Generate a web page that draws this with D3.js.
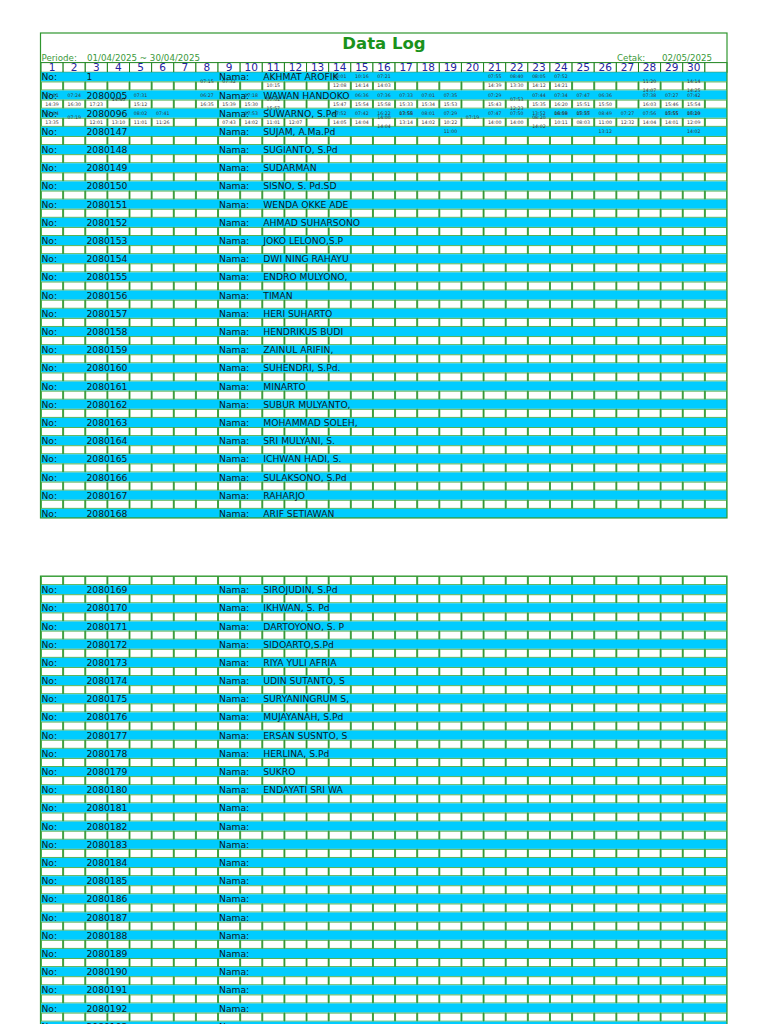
<!DOCTYPE html>
<html><head><meta charset="utf-8">
<script src="https://cdn.jsdelivr.net/npm/d3@7"></script>
<style>html,body{margin:0;padding:0;background:#fff;} svg{display:block;}</style>
</head><body>
<svg id="chart" width="768" height="1024"></svg>
<script>
// ---------- data ----------
const titleText = "Data Log";
const periodeLabel = "Periode:";
const periodeValue = "01/04/2025 ~ 30/04/2025";
const cetakLabel = "Cetak:";
const cetakValue = "02/05/2025";
const dayLabels = ["1","2","3","4","5","6","7","8","9","10","11","12","13","14","15","16","17","18","19","20","21","22","23","24","25","26","27","28","29","30",""];

const idsPage1 = ["1","2080005","2080096","2080147","2080148","2080149","2080150","2080151","2080152","2080153","2080154","2080155","2080156","2080157","2080158","2080159","2080160","2080161","2080162","2080163","2080164","2080165","2080166","2080167","2080168"];
const namesPage1 = ["AKHMAT AROFIK","WAWAN HANDOKO","SUWARNO, S.Pd","SUJAM, A.Ma.Pd","SUGIANTO, S.Pd","SUDARMAN","SISNO, S. Pd.SD","WENDA OKKE ADE","AHMAD SUHARSONO","JOKO LELONO,S.P","DWI NING RAHAYU","ENDRO MULYONO,","TIMAN","HERI SUHARTO","HENDRIKUS BUDI","ZAINUL ARIFIN,","SUHENDRI, S.Pd.","MINARTO","SUBUR MULYANTO,","MOHAMMAD SOLEH,","SRI MULYANI, S.","ICHWAN HADI, S.","SULAKSONO, S.Pd","RAHARJO","ARIF SETIAWAN"];

const idsPage2 = ["2080169","2080170","2080171","2080172","2080173","2080174","2080175","2080176","2080177","2080178","2080179","2080180","2080181","2080182","2080183","2080184","2080185","2080186","2080187","2080188","2080189","2080190","2080191","2080192","2080193"];
const namesPage2 = ["SIROJUDIN, S.Pd","IKHWAN, S. Pd","DARTOYONO, S. P","SIDOARTO,S.Pd","RIYA YULI AFRIA","UDIN SUTANTO, S","SURYANINGRUM S,","MUJAYANAH, S.Pd","ERSAN SUSNTO, S","HERLINA, S.Pd","SUKRO","ENDAYATI SRI WA","","","","","","","","","","","","",""];

// scan times per day (1..30), lines separated by "\n"
const log_1 = ["","","","","","","","07:15","07:32","","\n10:15","","","08:01\n12:08","10:16\n14:14","07:21\n14:03","","","","","07:55\n14:39","08:40\n13:30","08:05\n14:12","07:52\n14:21","","","","\n11:20\n14:07","","\n14:14\n14:25"];
const log_2080005 = ["07:01\n14:39","07:24\n16:30","\n17:23","14:40","07:31\n15:12","","","06:27\n16:35","\n15:39","07:18\n15:30","\n07:01\n15:57","","","\n15:47","06:36\n15:54","\n07:36\n15:58\n16:22","\n07:33\n15:33\n13:58","07:01\n15:34","07:35\n15:53","","07:29\n15:43","\n07:53\n12:23","\n07:44\n15:35\n13:52","\n07:34\n16:20\n16:58","\n07:47\n15:51\n15:57","06:36\n15:50","","07:38\n16:03","\n07:27\n15:46\n15:55","\n07:42\n15:54\n16:10"];
const log_2080096 = ["07:04\n13:35","07:19","\n12:01","\n13:10","08:02\n11:01","07:41\n11:26","","","\n07:43","07:53\n14:02","\n11:01","\n12:07","","07:52\n14:05","07:42\n14:04","\n14:00\n14:04","07:55\n13:14","08:01\n14:02","\n07:29\n10:22\n11:00","07:19","07:47\n14:00","07:50\n14:00","\n08:20\n14:02","08:09\n10:11","07:35\n08:03","\n08:49\n11:00\n13:12","07:27\n12:32","07:56\n14:04","07:55\n14:01","\n07:29\n12:09\n14:02"];
const logsById = {"1": log_1, "2080005": log_2080005, "2080096": log_2080096};

// ---------- drawing ----------
const GREEN = "#2f962f", CELL = "#55b255", CYAN = "#00ccff";
const FONT = "DejaVu Sans, Verdana, sans-serif";
const svg = d3.select("#chart");

const x = d3.scaleBand().domain(d3.range(dayLabels.length)).range([41, 727]);
const bw = x.bandwidth();
const pitch = 18.19;
const y1 = d3.scaleBand().domain(idsPage1).range([72.3, 72.3 + idsPage1.length * pitch]);
const y2 = d3.scaleBand().domain(idsPage2).range([585.1, 585.1 + idsPage2.length * pitch]);
const half = y1.bandwidth() / 2;

const gBg = svg.append("g"), gTime = svg.append("g"), gName = svg.append("g"), gFrame = svg.append("g");

function whiteRow(yTop) {
  gBg.append("g").selectAll("rect").data(x.domain()).join("rect")
    .attr("x", d => x(d) + 0.5).attr("y", yTop + 0.5)
    .attr("width", bw - 1).attr("height", half - 1)
    .attr("fill", "#fff").attr("stroke", CELL).attr("stroke-width", 1);
  gBg.append("g").selectAll("line").data(x.domain().slice(1)).join("line")
    .attr("x1", d => x(d)).attr("x2", d => x(d))
    .attr("y1", yTop).attr("y2", yTop + half)
    .attr("stroke", "#1e841e").attr("stroke-width", 0.8);
}

function employeeRows(ids, names, y, skipLastWhite) {
  ids.forEach((id, i) => {
    const top = y(id);
    gBg.append("rect").attr("x", 41).attr("y", top).attr("width", 686).attr("height", half).attr("fill", CYAN);
    if (!(skipLastWhite && i === ids.length - 1)) whiteRow(top + half);
    const cy = top + half / 2;
    const row = gName.append("g").attr("font-family", FONT).attr("font-size", 9.2).attr("fill", "#0d1a22")
      .attr("dominant-baseline", "central");
    row.append("text").attr("x", 41.5).attr("y", cy).text("No:");
    row.append("text").attr("x", x(2) + 1.2).attr("y", cy).text(id);
    row.append("text").attr("x", x(8) + 1).attr("y", cy).text("Nama:");
    row.append("text").attr("x", x(10) + 1).attr("y", cy).text(names[i]);

    const log = logsById[id];
    if (log) {
      const yb = top + half;
      log.forEach((entry, d) => {
        if (!entry) return;
        const lines = entry.split("\n");
        const n = lines.length;
        lines.forEach((ln, k) => {
          if (!ln) return;
          gTime.append("text")
            .attr("x", x(d) + bw / 2).attr("y", yb + (k - (n - 1) / 2) * 9)
            .attr("text-anchor", "middle").attr("dominant-baseline", "central")
            .attr("font-family", FONT).attr("font-size", 4.7).attr("fill", "#3a3a3a")
            .text(ln);
        });
      });
    }
  });
}

// ---- page 1 ----
svg.append("text").attr("x", 384).attr("y", 48.5).attr("text-anchor", "middle")
  .attr("font-family", FONT).attr("font-weight", "bold").attr("font-size", 16.5)
  .attr("fill", "#1b921b").text(titleText);
const hdr = svg.append("g").attr("font-family", FONT).attr("font-size", 8.7).attr("fill", "#3b9a3b");
hdr.append("text").attr("x", 41.5).attr("y", 61).text(periodeLabel);
hdr.append("text").attr("x", 87).attr("y", 61).text(periodeValue);
hdr.append("text").attr("x", 617).attr("y", 61).text(cetakLabel);
hdr.append("text").attr("x", 662).attr("y", 61).text(cetakValue);

// day header row
const hTop = 62.6, hH = 72.3 - 62.6;
gBg.append("g").selectAll("rect").data(x.domain()).join("rect")
  .attr("x", d => x(d)).attr("y", hTop).attr("width", bw).attr("height", hH)
  .attr("fill", "#fff").attr("stroke", "#1e841e").attr("stroke-width", 1);
svg.append("g").selectAll("text").data(x.domain()).join("text")
  .attr("x", d => x(d) + bw / 2).attr("y", hTop + hH - 1.2)
  .attr("text-anchor", "middle").attr("font-family", FONT).attr("font-size", 10.5)
  .attr("fill", "#22229e").text(d => dayLabels[d]);

employeeRows(idsPage1, namesPage1, y1, true);
gFrame.append("rect").attr("x", 40.5).attr("y", 33).attr("width", 686.5)
  .attr("height", y1(idsPage1[idsPage1.length - 1]) + half - 33)
  .attr("fill", "none").attr("stroke", GREEN).attr("stroke-width", 1.2);

// ---- page 2 ----
const p2Top = y2(idsPage2[0]) - half;
whiteRow(p2Top);
employeeRows(idsPage2, namesPage2, y2, false);
gFrame.append("path")
  .attr("d", `M40.5,1030 V${p2Top} H727 V1030`)
  .attr("fill", "none").attr("stroke", GREEN).attr("stroke-width", 1.2);
</script>
</body></html>
